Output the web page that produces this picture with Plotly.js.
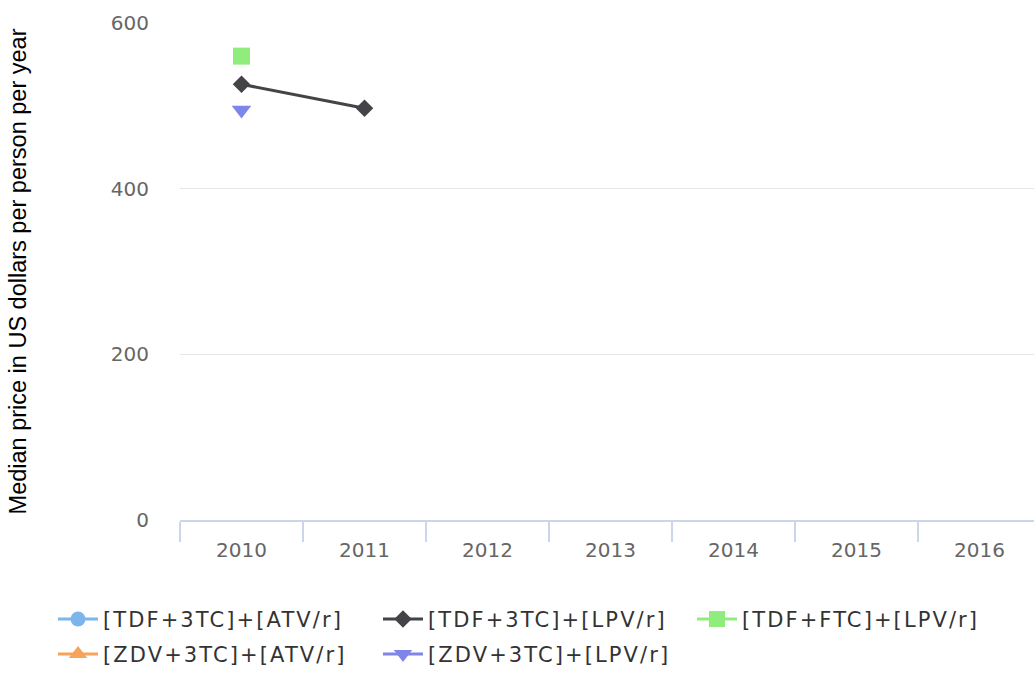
<!DOCTYPE html>
<html>
<head>
<meta charset="utf-8">
<script src="https://cdn.plot.ly/plotly-3.0.1.min.js"></script>
<style>
html,body{margin:0;padding:0;background:#fff}
#chart{width:1034px;height:675px}
</style>
</head>
<body>
<div id="chart"></div>
<script>
var years = ["2010", "2011", "2012", "2013", "2014", "2015", "2016"];
var tdf3tcAtv = [null, null, null, null, null, null, null];
var tdf3tcLpv = [526, 497, null, null, null, null, null];
var tdfFtcLpv = [560, null, null, null, null, null, null];
var zdv3tcAtv = [null, null, null, null, null, null, null];
var zdv3tcLpv = [495, null, null, null, null, null, null];
var seriesNames = ["[TDF+3TC]+[ATV/r]", "[TDF+3TC]+[LPV/r]", "[TDF+FTC]+[LPV/r]", "[ZDV+3TC]+[ATV/r]", "[ZDV+3TC]+[LPV/r]"];
var yTicks = [0, 200, 400, 600];

function tr(name, y, color, symbol, size, legend) {
  return {
    type: "scatter", mode: "lines+markers", name: name, x: years, y: y,
    line: {color: color, width: 3}, connectgaps: false,
    marker: {color: color, symbol: symbol, size: size},
    legend: legend, hoverinfo: "x+y+name"
  };
}

var data = [
  tr(seriesNames[0], tdf3tcAtv, "#7cb5ec", "circle", 15, "legend"),
  tr(seriesNames[1], tdf3tcLpv, "#434348", "diamond", 13.5, "legend2"),
  tr(seriesNames[2], tdfFtcLpv, "#90ed7d", "square", 17, "legend3"),
  tr(seriesNames[3], zdv3tcAtv, "#f7a35c", "triangle-up", 17, "legend4"),
  tr(seriesNames[4], zdv3tcLpv, "#8085e9", "triangle-down", 17, "legend5")
];

function px2x(p) { return (p - 180) / 854; }
function px2y(p) { return (520.5 - p) / 497.5; }
function leg(xp, yp) {
  return {x: px2x(xp), y: px2y(yp), xanchor: "left", yanchor: "middle",
    orientation: "v", bgcolor: "rgba(0,0,0,0)", itemwidth: 40,
    font: {family: "DejaVu Sans", size: 21, color: "#333333"}};
}

var layout = {
  width: 1034, height: 675,
  margin: {l: 180, r: 0, t: 23, b: 154.5, pad: 0},
  paper_bgcolor: "#ffffff", plot_bgcolor: "#ffffff",
  showlegend: true,
  xaxis: {
    type: "category", range: [-0.5, 6.443], fixedrange: true,
    tickson: "boundaries", ticks: "outside", ticklen: 20, tickwidth: 1.5, tickcolor: "#ccd6eb",
    showline: true, linecolor: "#ccd6eb", linewidth: 2,
    showgrid: false, zeroline: false,
    tickfont: {family: "DejaVu Sans", size: 20, color: "#666666"},
    ticklabelstandoff: 11
  },
  yaxis: {
    range: [0, 600], tickvals: yTicks, ticktext: yTicks.map(String),
    showgrid: true, gridcolor: "#e6e6e6", gridwidth: 1, zeroline: false,
    showline: false, ticks: "",
    tickfont: {family: "DejaVu Sans", size: 20, color: "#666666"},
    ticklabelstandoff: 30,
    title: {text: "Median price in US dollars per person per year",
      font: {family: "Liberation Sans, Arial", size: 23.5, color: "#000000"}, standoff: 77}
  },
  legend: leg(53, 620),
  legend2: leg(378, 620),
  legend3: leg(692, 620),
  legend4: leg(53, 655),
  legend5: leg(378, 655)
};

function widenLegendText() {
  var gd = document.getElementById("chart");
  var texts = gd.querySelectorAll("text");
  texts.forEach(function (t) {
    if (seriesNames.indexOf(t.textContent) >= 0) {
      t.style.letterSpacing = "2.1px";
    }
  });
  gd.querySelectorAll("g.scrollbox, g[clip-path]").forEach(function (g) {
    var p = g.parentNode;
    while (p && p !== gd) {
      if (p.getAttribute && /legend/.test(p.getAttribute("class") || "")) {
        g.removeAttribute("clip-path");
        g.style.clipPath = "none";
        break;
      }
      p = p.parentNode;
    }
  });
}

Plotly.newPlot("chart", data, layout, {displayModeBar: false}).then(widenLegendText);
</script>
</body>
</html>
